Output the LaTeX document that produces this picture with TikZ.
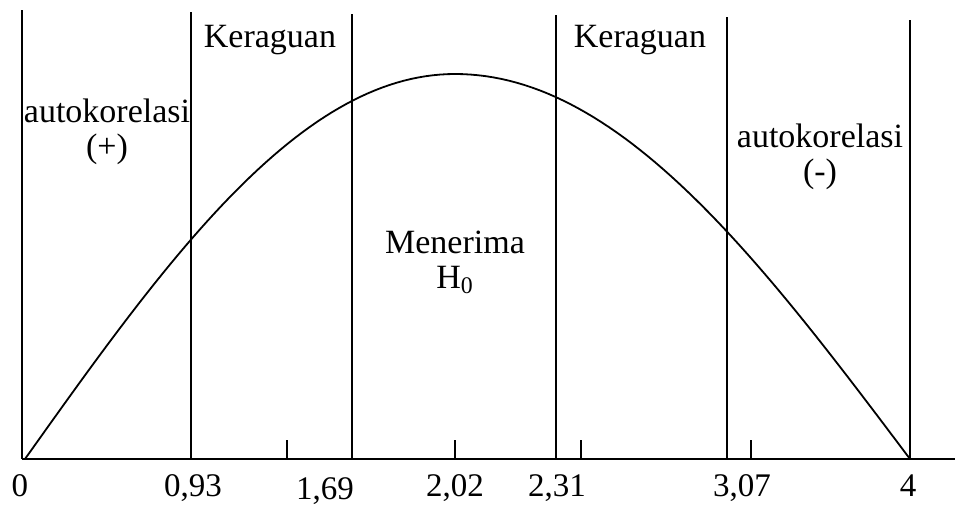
\documentclass[tikz,border=0pt]{standalone}
\usepackage{fontspec}
\setmainfont{Liberation Serif}
\usetikzlibrary{positioning}

\begin{document}
\begin{tikzpicture}[x=0.5pt, y=-0.5pt, line width=0.9pt,
		lbl/.style={font=\fontsize{17}{17.5}\selectfont, inner sep=1pt, align=center},
		num/.style={font=\fontsize{16.5}{17.5}\selectfont, inner sep=0pt, anchor=base}]
		% Keep the page at the size of the slide
		\useasboundingbox (0,0) rectangle (955,506);
		
		% 1. Axis and region boundaries
		\coordinate (O) at (22,459);
		\coordinate (E) at (955,459);
		\draw (O) -- (E);
		\foreach \xpos/\ytop in {22/10, 191/12, 352/14, 556/15, 727/17, 910/20} {
			\draw (\xpos,459) -- (\xpos,\ytop);
		}
		% Small ticks between the bounds
		\foreach \xpos in {287, 455, 581, 751} {
			\draw (\xpos,459) -- (\xpos,440);
		}
		
		% 2. The distribution curve (peak a bit left of centre)
		\draw plot[domain=25:455, samples=60] (\x, {459-385*sin((\x-25)/430*90)});
		\draw plot[domain=455:910, samples=60] (\x, {459-385*sin((910-\x)/455*90)});
		
		% 3. Region labels
		\node[lbl] (autoL) at (107,132) {autokorelasi\\(+)};
		\node[lbl] (ragL) at (270,40) {Keraguan};
		\node[lbl] (terima) at (455,262) {Menerima\\H\textsubscript{0}};
		\node[lbl] (ragR) at (640,40) {Keraguan};
		\node[lbl] (autoR) at (820,157) {autokorelasi\\(-)};
		
		% 4. Values on the axis
		\foreach \xpos/\ypos/\val in {20/497/0, 193/497/{0,93}, 325/500/{1,69}, 455/497/{2,02},
			557/497/{2,31}, 742/497/{3,07}, 908/497/4} {
			\node[num] (d\xpos) at (\xpos,\ypos) {\val};
		}
		
	\end{tikzpicture}
\end{document}
